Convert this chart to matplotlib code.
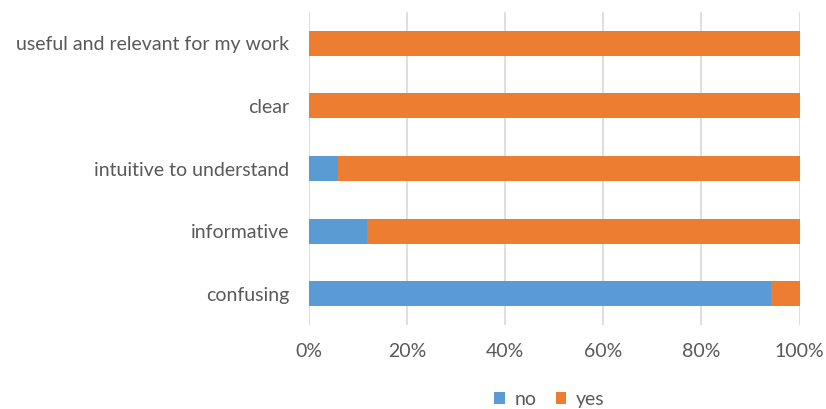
import matplotlib.pyplot as plt
from matplotlib.ticker import PercentFormatter

# survey answers, share of respondents (%)
categorias = ["useful and relevant for my work", "clear", "intuitive to understand",
              "informative", "confusing"]
no = [0.0, 0.0, 5.9, 11.8, 94.1]
yes = [100.0, 100.0, 94.1, 88.2, 5.9]

AZUL = "#5B9BD5"
LARANJA = "#ED7D31"
CINZA = "#595959"

plt.rcParams["font.family"] = ["Lato", "DejaVu Sans"]

fig = plt.figure(figsize=(8.26, 4.09), dpi=100)
ax = fig.add_axes([0.374, 0.205, 0.594, 0.766])

pos = list(range(len(categorias)))[::-1]  # first category on top
ax.barh(pos, no, height=0.4, color=AZUL, label="no", zorder=3)
ax.barh(pos, yes, left=no, height=0.4, color=LARANJA, label="yes", zorder=3)

ax.set_xlim(0, 100)
ax.set_ylim(-0.5, len(categorias) - 0.5)
ax.set_xticks([0, 20, 40, 60, 80, 100])
ax.xaxis.set_major_formatter(PercentFormatter(decimals=0))
ax.set_yticks(pos)
ax.set_yticklabels(categorias)

ax.grid(axis="x", color="#D9D9D9", linewidth=1.2, zorder=0)
for s in ax.spines.values():
    s.set_visible(False)
ax.tick_params(axis="both", length=0, labelsize=14, labelcolor=CINZA)
ax.tick_params(axis="x", pad=13)
ax.tick_params(axis="y", pad=14)

ax.legend(loc="center", bbox_to_anchor=(0.49, -0.236), ncol=2, frameon=False,
          fontsize=14, labelcolor=CINZA, handlelength=0.55, handleheight=0.55,
          handletextpad=0.5, columnspacing=1.0, borderpad=0)

fig.savefig("out.png", dpi=100)
